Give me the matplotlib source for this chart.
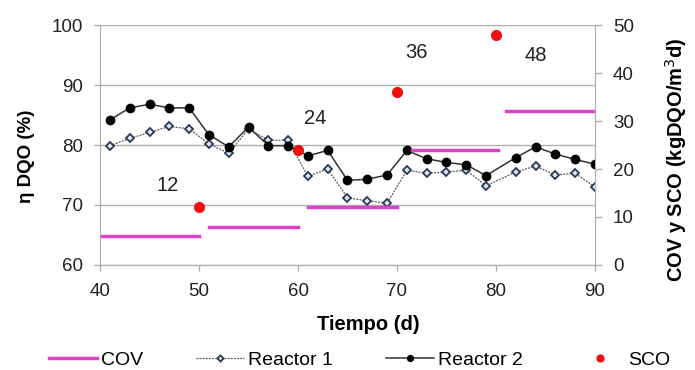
import numpy as np
import matplotlib.pyplot as plt

plt.rcParams['font.family'] = ['Liberation Sans', 'DejaVu Sans']

# datos
dias = [41, 43, 45, 47, 49, 51, 53, 55, 57, 59, 61, 63, 65, 67, 69,
        71, 73, 75, 77, 79, 82, 84, 86, 88, 90]
reactor1 = [79.9, 81.1, 82.1, 83.1, 82.7, 80.2, 78.6, 82.7, 80.8, 80.8, 74.8, 76.0, 71.2, 70.7, 70.3,
            75.8, 75.3, 75.5, 75.8, 73.2, 75.5, 76.5, 75.0, 75.3, 73.0]
reactor2 = [84.2, 86.2, 86.8, 86.2, 86.2, 81.7, 79.7, 83.0, 79.9, 79.9, 78.2, 79.1, 74.1, 74.3, 75.0,
            79.1, 77.7, 77.1, 76.7, 74.9, 77.9, 79.7, 78.5, 77.6, 76.8]

cov_ini = [40, 51, 61, 71.5, 81]
cov_fin = [50, 60, 70, 80.2, 90]
cov_val = [6, 8, 12, 24, 32]

sco_dias = [50, 60, 70, 80]
sco_val = [12, 24, 36, 48]
sco_txt = ['12', '24', '36', '48']
txt_x = [46.8, 61.7, 72.0, 84.0]
txt_y = [16.5, 30.5, 44.4, 43.6]

gris = '#b0b0b0'

fig, ax = plt.subplots(figsize=(6.95, 3.7), dpi=100)
fig.subplots_adjust(left=0.144, right=0.856, top=0.932, bottom=0.284)
ax2 = ax.twinx()

ax.set_xlim(40, 90)
ax.set_ylim(60, 100)
ax2.set_ylim(0, 50)
ax.set_yticks(range(60, 101, 10))
ax.set_xticks(range(40, 91, 10))
ax2.set_yticks(range(0, 51, 10))
ax.grid(axis='y', color=gris, lw=1)
ax.set_axisbelow(True)

for a in (ax, ax2):
    for s in a.spines.values():
        s.set_color(gris)
    a.spines['top'].set_visible(False)
    a.tick_params(colors=gris, labelcolor='#222222', labelsize=13.5, width=1)
ax.tick_params(axis='x', length=4, pad=9)
ax.tick_params(axis='y', length=4.5, pad=8)
ax2.tick_params(axis='y', length=5, pad=8)

ax.plot(dias, reactor1, color='#555555', lw=0.9, ls=(0, (1.5, 1)), marker='D', ms=4.5,
        mfc='#dde6f0', mec='#2a3a55', mew=1.3, label='Reactor 1', zorder=3)
ax.plot(dias, reactor2, color='#333333', lw=1.1, marker='o', ms=6,
        mfc='black', mec='black', label='Reactor 2', zorder=4)

for i in range(len(cov_val)):
    ax2.plot([cov_ini[i], cov_fin[i]], [cov_val[i], cov_val[i]], color='#e040c8', lw=2.5,
             label='COV' if i == 0 else None, zorder=2)
ax2.plot(sco_dias, sco_val, ls='none', marker='o', ms=7, color='#ee1111', label='SCO', zorder=5)
for x, y, t in zip(txt_x, txt_y, sco_txt):
    ax2.text(x, y, t, fontsize=14.5, ha='center', va='center', color='#222222')

ax.set_xlabel('Tiempo (d)', fontsize=14.5, fontweight='bold', labelpad=11, x=0.543)
ax.set_ylabel('η DQO (%)', fontsize=13.5, fontweight='bold', labelpad=12, y=0.454)
ax2.set_ylabel('COV y SCO (kgDQO/m$^3$d)', fontsize=14.5, fontweight='bold', labelpad=21, y=0.44)

h1, l1 = ax.get_legend_handles_labels()
h2, l2 = ax2.get_legend_handles_labels()
handles = [h2[0], h1[0], h1[1], h2[1]]
labels = [l2[0], l1[0], l1[1], l2[1]]
fig.legend(handles, labels, loc='center', bbox_to_anchor=(0.517, 0.027), ncol=4, frameon=False,
           fontsize=14, handlelength=2.5, columnspacing=2.7, handletextpad=0.2, markerscale=0.7)

fig.savefig('out.png', dpi=100)
